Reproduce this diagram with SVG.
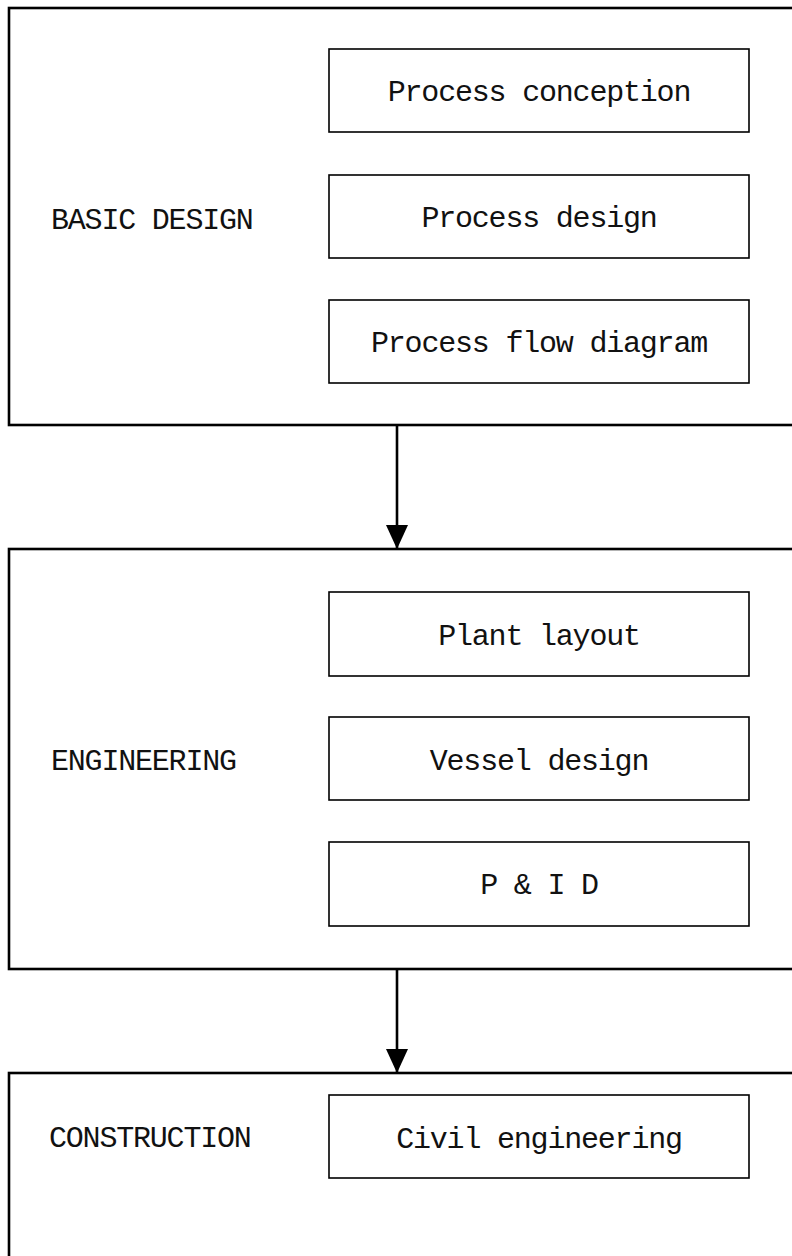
<svg xmlns="http://www.w3.org/2000/svg" width="792" height="1256" viewBox="0 0 792 1256">
  <defs>
    <marker id="arrowhead" markerUnits="userSpaceOnUse" markerWidth="24" markerHeight="24" refX="24" refY="12" orient="auto" viewBox="0 0 24 24">
      <path d="M0,1 L24,12 L0,23 Z" fill="#000"/>
    </marker>
  </defs>
  <style>
    .stage { fill: #fff; stroke: #000; stroke-width: 2.6; }
    .step { fill: #fff; stroke: #000; stroke-width: 1.6; }
    .label { font-family: "Liberation Mono", "DejaVu Sans Mono", monospace; font-size: 30px; letter-spacing: -1.2px; fill: #111; }
    .steptext { font-family: "Liberation Mono", "DejaVu Sans Mono", monospace; font-size: 30px; letter-spacing: -1.2px; fill: #111; text-anchor: middle; }
    .conn { stroke: #000; stroke-width: 2.6; fill: none; }
  </style>
  <rect width="792" height="1256" fill="#fff"/>

  <!-- Stage 1: basic design -->
  <g id="basic-design">
    <rect class="stage" x="9" y="8" width="800" height="417"/>
    <text class="label" x="51" y="229">BASIC DESIGN</text>
  </g>
  <g id="process-conception">
    <rect class="step" x="329" y="49" width="420" height="83"/>
    <text class="steptext" x="539" y="101">Process conception</text>
  </g>
  <g id="process-design">
    <rect class="step" x="329" y="175" width="420" height="83"/>
    <text class="steptext" x="539" y="227">Process design</text>
  </g>
  <g id="process-flow-diagram">
    <rect class="step" x="329" y="300" width="420" height="83"/>
    <text class="steptext" x="539" y="352">Process flow diagram</text>
  </g>

  <!-- Stage 2: engineering -->
  <g id="engineering">
    <rect class="stage" x="9" y="549" width="800" height="420"/>
    <text class="label" x="51" y="770">ENGINEERING</text>
  </g>
  <g id="plant-layout">
    <rect class="step" x="329" y="592" width="420" height="84"/>
    <text class="steptext" x="539" y="645">Plant layout</text>
  </g>
  <g id="vessel-design">
    <rect class="step" x="329" y="717" width="420" height="83"/>
    <text class="steptext" x="539" y="770">Vessel design</text>
  </g>
  <g id="p-and-id">
    <rect class="step" x="329" y="842" width="420" height="84"/>
    <text class="steptext" x="539" y="894">P &amp; I D</text>
  </g>

  <!-- Stage 3: construction -->
  <g id="construction">
    <rect class="stage" x="9" y="1073" width="800" height="220"/>
    <text class="label" x="49" y="1147">CONSTRUCTION</text>
  </g>
  <g id="civil-engineering">
    <rect class="step" x="329" y="1095" width="420" height="83"/>
    <text class="steptext" x="539" y="1148">Civil engineering</text>
  </g>

  <!-- Flow between stages -->
  <g id="connectors">
    <line class="conn" x1="397" y1="425" x2="397" y2="549" marker-end="url(#arrowhead)"/>
    <line class="conn" x1="397" y1="969" x2="397" y2="1073" marker-end="url(#arrowhead)"/>
  </g>
</svg>
